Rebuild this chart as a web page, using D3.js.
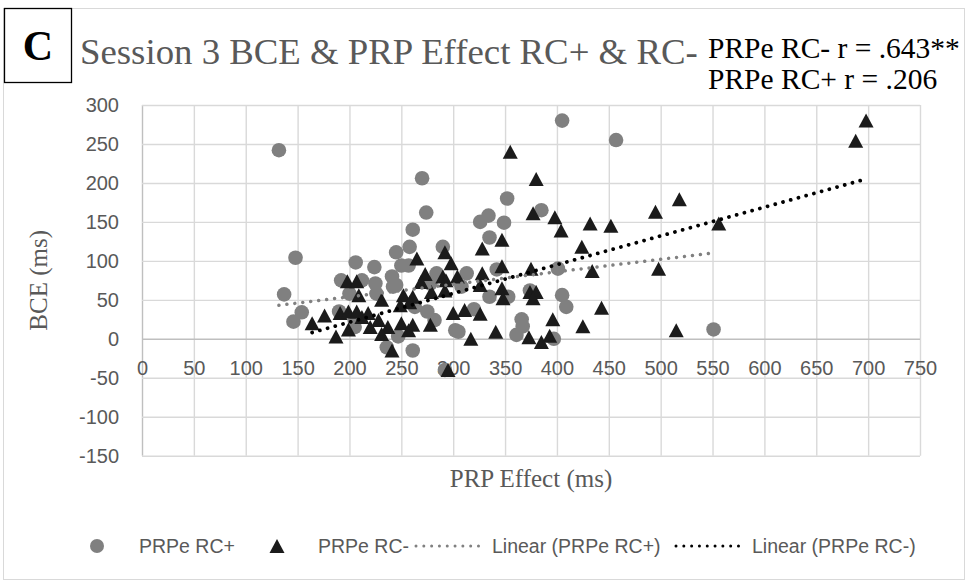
<!DOCTYPE html>
<html><head><meta charset="utf-8">
<script src="https://cdn.jsdelivr.net/npm/d3@7"></script>
<style>body{margin:0;background:#fff}svg{display:block}</style>
</head><body><svg id="c" width="968" height="582"></svg>
<script>
// ---- data ----
const rcPlus = [[132,242],[148,104],[137,57],[154,34],[146,22],[190,35],[206,98],[192,75],[200,58],[205,24],[205,15],[224,92],[212,75],[225,71],[226,58],[241,80],[245,111],[250,94],[257,94],[258,118],[261,140],[270,206],[274,162],[284,84],[290,118],[245,69],[242,67],[278,71],[263,41],[275,35],[282,24],[247,3],[302,11],[236,-11],[261,-15],[292,-40],[313,84],[326,150],[334,158],[349,149],[352,180],[385,165],[335,130],[342,89],[308,67],[335,54],[353,54],[374,62],[320,38],[305,9],[366,25],[367,16],[361,5],[397,0],[401,90],[405,56],[409,41],[405,280],[457,255],[551,12]];
const rcMinus = [[164,20],[176,30],[187,3],[199,12],[191,33],[199,35],[207,35],[212,28],[198,74],[207,74],[209,56],[218,33],[228,24],[237,15],[220,15],[250,20],[261,18],[278,18],[231,6],[257,11],[241,-15],[231,50],[252,56],[261,54],[279,60],[292,62],[265,103],[292,111],[273,83],[298,97],[304,80],[290,80],[293,75],[269,73],[249,43],[258,47],[300,33],[311,37],[326,32],[317,0],[295,-40],[355,240],[380,205],[377,161],[347,127],[328,116],[328,84],[347,93],[375,90],[326,69],[347,65],[348,52],[374,60],[380,60],[377,52],[341,9],[373,2],[385,-4],[393,4],[396,25],[398,156],[404,139],[424,118],[432,148],[452,145],[434,87],[443,40],[425,16],[495,163],[518,179],[498,90],[515,11],[556,148],[688,254],[698,280]];
// linear trend lines as drawn in the reference (start and end, in data units)
const rcPlusTrend = [[132,43],[550,110]];
const rcMinusTrend = [[164,8],[698,205]];
const xTicks = [0,50,100,150,200,250,300,350,400,450,500,550,600,650,700,750];
const yTicks = [-150,-100,-50,0,50,100,150,200,250,300];
const titleText = "Session 3 BCE & PRP Effect RC+ & RC-";
const panelLabel = "C";
const corrLines = ["PRPe RC- r = .643**", "PRPe RC+ r = .206"];
const xTitle = "PRP Effect (ms)";
const yTitle = "BCE (ms)";
const legendLabels = ["PRPe RC+", "PRPe RC-", "Linear (PRPe RC+)", "Linear (PRPe RC-)"];

// ---- drawing ----
const svg = d3.select("#c");
const grey = "#808080", dark = "#1b1b1b", txt = "#595959";
const sans = "'Liberation Sans', Arial, sans-serif";
const serif = "'Liberation Serif', 'Times New Roman', serif";

const x = d3.scaleLinear().domain([0,750]).range([142,920]);
const y = d3.scaleLinear().domain([-150,300]).range([455.7,105]);

svg.append("rect").attr("x",3.5).attr("y",8.5).attr("width",961).attr("height",571)
  .attr("fill","#fff").attr("stroke","#d9d9d9").attr("stroke-width",1);

// gridlines
const gx = svg.append("g").attr("transform",`translate(0,${y(-150)})`)
  .call(d3.axisBottom(x).tickValues(xTicks).tickSize(-(y(-150)-y(300))).tickFormat(""));
gx.select(".domain").remove();
gx.selectAll("line").attr("stroke",d=>d===0?"#bfbfbf":"#d9d9d9").attr("stroke-width",1.4);
const gy = svg.append("g").attr("transform",`translate(${x(0)},0)`)
  .call(d3.axisLeft(y).tickValues(yTicks).tickSize(-(x(750)-x(0))).tickFormat(""));
gy.select(".domain").remove();
gy.selectAll("line").attr("stroke",d=>d===0?"#bfbfbf":"#d9d9d9").attr("stroke-width",1.4);

// axis labels
const ax = svg.append("g").attr("transform",`translate(0,${y(0)})`)
  .call(d3.axisBottom(x).tickValues(xTicks).tickSize(0).tickPadding(22).tickFormat(d=>String(d)));
ax.select(".domain").remove();
ax.selectAll("text").attr("font-family",sans).attr("font-size",20).attr("fill",txt);
const ay = svg.append("g").attr("transform",`translate(${x(0)},0)`)
  .call(d3.axisLeft(y).tickValues(yTicks).tickSize(0).tickPadding(23).tickFormat(d=>String(d)));
ay.select(".domain").remove();
ay.selectAll("text").attr("font-family",sans).attr("font-size",20).attr("fill",txt);

// points
svg.append("g").selectAll("circle").data(rcPlus).join("circle")
  .attr("cx",d=>x(d[0])).attr("cy",d=>y(d[1])).attr("r",7.3).attr("fill",grey);
const tri = (cx,cy)=>`M${cx},${cy-7}L${cx+7.5},${cy+7}L${cx-7.5},${cy+7}Z`;
svg.append("g").selectAll("path").data(rcMinus).join("path")
  .attr("d",d=>tri(x(d[0]),y(d[1]))).attr("fill",dark);

// linear trend lines
const line = d3.line().x(d=>x(d[0])).y(d=>y(d[1]));
svg.append("path").attr("d",line(rcPlusTrend)).attr("fill","none").attr("stroke",grey)
  .attr("stroke-width",3.5).attr("stroke-linecap","round").attr("stroke-dasharray","0.01 8");
svg.append("path").attr("d",line(rcMinusTrend)).attr("fill","none").attr("stroke","#000")
  .attr("stroke-width",3.8).attr("stroke-linecap","round").attr("stroke-dasharray","0.01 8");

// axis titles
svg.append("text").attr("x",(x(0)+x(750))/2).attr("y",487).attr("text-anchor","middle")
  .attr("font-family",serif).attr("font-size",25).attr("fill",txt).text(xTitle);
svg.append("text").attr("transform",`translate(47,${(y(-150)+y(300))/2}) rotate(-90)`)
  .attr("text-anchor","middle").attr("font-family",serif).attr("font-size",25).attr("fill",txt).text(yTitle);

// title + panel label + correlations
svg.append("text").attr("x",80).attr("y",64).attr("font-family",serif).attr("font-size",36.8)
  .attr("fill",txt).text(titleText);
svg.append("rect").attr("x",4.5).attr("y",8.5).attr("width",67).attr("height",74)
  .attr("fill","#fff").attr("stroke","#000").attr("stroke-width",1.3);
svg.append("text").attr("x",38).attr("y",60).attr("text-anchor","middle").attr("font-family",serif)
  .attr("font-weight","bold").attr("font-size",42).attr("fill","#000").text(panelLabel);
svg.selectAll("text.corr").data(corrLines).join("text").attr("class","corr")
  .attr("x",708).attr("y",(d,i)=>58+i*31).attr("font-family",serif).attr("font-size",29.5)
  .attr("fill","#000").text(d=>d);

// legend
const lg = svg.append("g").attr("font-family",sans).attr("font-size",19.5).attr("fill",txt);
const ly = 546;
lg.append("circle").attr("cx",97).attr("cy",ly).attr("r",7).attr("fill",grey);
lg.append("path").attr("d",tri(277,ly)).attr("fill",dark);
lg.append("line").attr("x1",416).attr("x2",486).attr("y1",ly).attr("y2",ly).attr("stroke",grey)
  .attr("stroke-width",3).attr("stroke-linecap","round").attr("stroke-dasharray","0.01 7.8");
lg.append("line").attr("x1",676).attr("x2",746).attr("y1",ly).attr("y2",ly).attr("stroke","#000")
  .attr("stroke-width",3).attr("stroke-linecap","round").attr("stroke-dasharray","0.01 7.8");
const lx = [139,318,492,752];
lg.selectAll("text").data(legendLabels).join("text").attr("x",(d,i)=>lx[i]).attr("y",ly+7).text(d=>d);
</script></body></html>
